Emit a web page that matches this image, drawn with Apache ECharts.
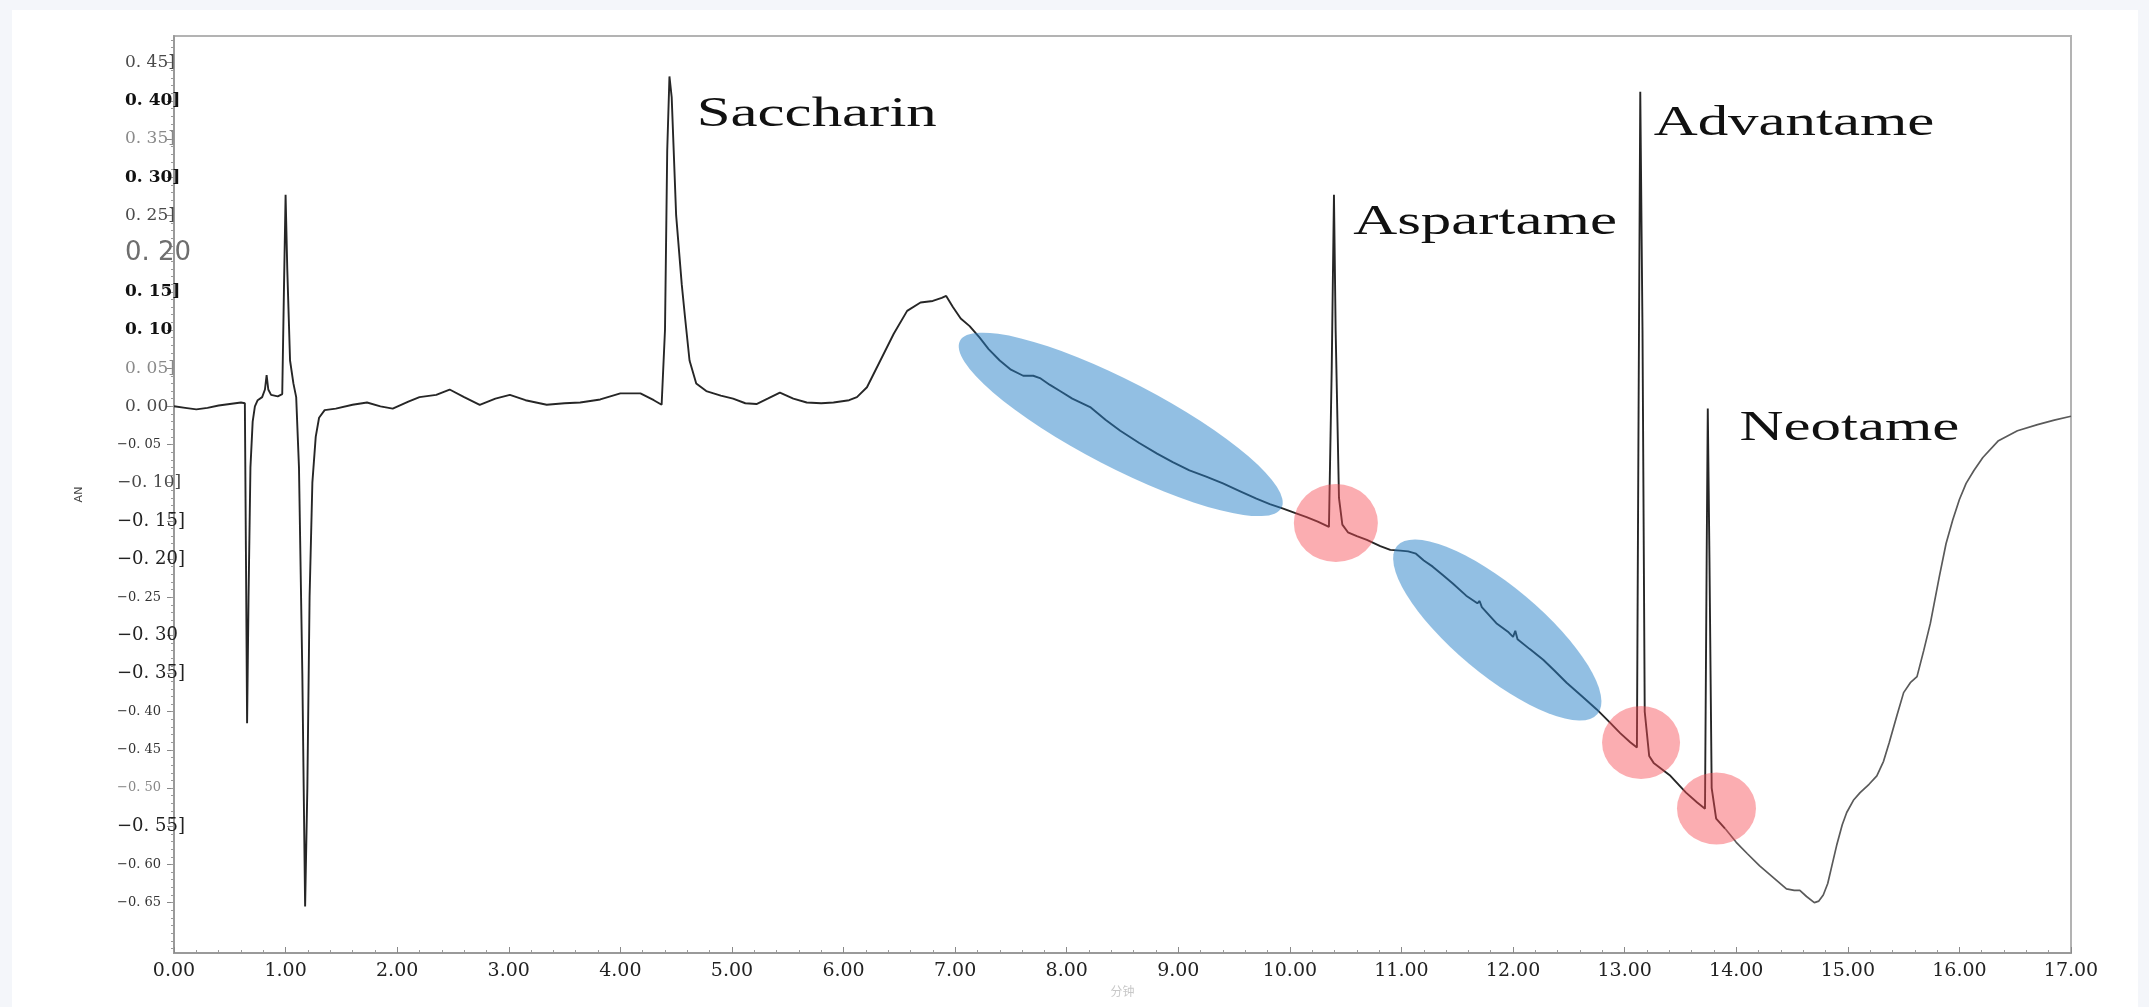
<!DOCTYPE html>
<html>
<head>
<meta charset="utf-8">
<script src="https://cdn.jsdelivr.net/npm/echarts@6/dist/echarts.min.js"></script>
<style>
  html, body { margin: 0; padding: 0; background: #f4f6fa; }
  #chart { width: 2149px; height: 1007px; }
</style>
</head>
<body>
<div id="chart"></div>
<script>
// ---------------- data ----------------
const times = [
  0.00, 0.10, 0.20, 0.30, 0.40, 0.50, 0.60, 0.635, 0.645, 0.655, 0.668, 0.685, 0.705, 0.725, 0.75, 0.79,
  0.815, 0.83, 0.845, 0.87, 0.93, 0.97, 0.985, 1.000, 1.015, 1.04, 1.07, 1.095, 1.12, 1.15, 1.175, 1.195,
  1.215, 1.24, 1.27, 1.30, 1.35, 1.45, 1.60, 1.73, 1.85, 1.96, 2.10, 2.20, 2.35, 2.47, 2.60, 2.74,
  2.88, 3.01, 3.15, 3.34, 3.50, 3.64, 3.82, 4.00, 4.18, 4.30, 4.37, 4.40, 4.42, 4.44, 4.46, 4.50,
  4.55, 4.58, 4.62, 4.68, 4.77, 4.90, 5.01, 5.12, 5.22, 5.32, 5.43, 5.55, 5.67, 5.80, 5.91, 6.05,
  6.12, 6.21, 6.33, 6.45, 6.57, 6.69, 6.80, 6.88, 6.92, 6.98, 7.05, 7.13, 7.22, 7.30, 7.40, 7.50,
  7.61, 7.70, 7.76, 7.85, 7.94, 8.05, 8.21, 8.35, 8.48, 8.65, 8.81, 8.95, 9.10, 9.25, 9.40, 9.55,
  9.70, 9.82, 9.94, 10.05, 10.15, 10.25, 10.35, 10.375, 10.395, 10.41, 10.44, 10.47, 10.52, 10.60, 10.69, 10.81,
  10.90, 10.99, 11.06, 11.13, 11.20, 11.28, 11.37, 11.46, 11.58, 11.68, 11.70, 11.72, 11.85, 11.96, 12.00, 12.02,
  12.04, 12.15, 12.27, 12.37, 12.48, 12.62, 12.75, 12.86, 12.96, 13.05, 13.11, 13.125, 13.14, 13.16, 13.18, 13.22,
  13.26, 13.41, 13.55, 13.65, 13.72, 13.735, 13.745, 13.76, 13.78, 13.82, 13.90, 14.00, 14.10, 14.21, 14.33, 14.45,
  14.52, 14.57, 14.63, 14.70, 14.74, 14.78, 14.82, 14.86, 14.90, 14.95, 14.99, 15.05, 15.11, 15.19, 15.26, 15.32,
  15.37, 15.44, 15.50, 15.56, 15.62, 15.68, 15.74, 15.82, 15.88, 15.94, 16.00, 16.06, 16.13, 16.21, 16.35, 16.52,
  16.70, 16.85, 17.00
];
const values = [
  0.000, -0.002, -0.004, -0.002, 0.001, 0.003, 0.005, 0.004, -0.200, -0.415, -0.250, -0.080, -0.020, 0.000, 0.008, 0.012,
  0.022, 0.041, 0.022, 0.015, 0.013, 0.016, 0.150, 0.277, 0.180, 0.060, 0.030, 0.012, -0.080, -0.350, -0.655, -0.500,
  -0.250, -0.100, -0.040, -0.015, -0.005, -0.003, 0.002, 0.005, 0.000, -0.003, 0.006, 0.012, 0.015, 0.022, 0.012, 0.002,
  0.010, 0.015, 0.008, 0.002, 0.004, 0.005, 0.009, 0.017, 0.017, 0.008, 0.002, 0.100, 0.335, 0.432, 0.405, 0.250,
  0.160, 0.116, 0.060, 0.030, 0.020, 0.014, 0.010, 0.004, 0.003, 0.010, 0.018, 0.010, 0.005, 0.004, 0.005, 0.008,
  0.012, 0.025, 0.060, 0.095, 0.125, 0.136, 0.138, 0.142, 0.1445, 0.130, 0.115, 0.105, 0.090, 0.075, 0.060, 0.048,
  0.040, 0.040, 0.037, 0.028, 0.020, 0.010, -0.001, -0.018, -0.032, -0.048, -0.062, -0.073, -0.084, -0.092, -0.101, -0.111,
  -0.121, -0.128, -0.134, -0.140, -0.145, -0.151, -0.158, 0.050, 0.277, 0.100, -0.120, -0.155, -0.165, -0.170, -0.175, -0.183,
  -0.188, -0.189, -0.190, -0.193, -0.202, -0.210, -0.221, -0.232, -0.248, -0.258, -0.255, -0.263, -0.284, -0.296, -0.302, -0.294,
  -0.305, -0.318, -0.332, -0.346, -0.362, -0.380, -0.397, -0.413, -0.428, -0.440, -0.447, 0.000, 0.412, 0.100, -0.400, -0.458,
  -0.467, -0.484, -0.506, -0.519, -0.527, -0.200, -0.003, -0.200, -0.500, -0.540, -0.553, -0.571, -0.586, -0.602, -0.617, -0.632,
  -0.634, -0.634, -0.642, -0.650, -0.648, -0.640, -0.625, -0.600, -0.575, -0.548, -0.532, -0.516, -0.506, -0.495, -0.484, -0.465,
  -0.441, -0.405, -0.375, -0.362, -0.354, -0.320, -0.284, -0.223, -0.180, -0.149, -0.122, -0.101, -0.084, -0.067, -0.045, -0.032,
  -0.024, -0.018, -0.013
];

const xTickLabels = ['0.00','1.00','2.00','3.00','4.00','5.00','6.00','7.00','8.00','9.00',
  '10.00','11.00','12.00','13.00','14.00','15.00','16.00','17.00'];

const yTickValues = [0.45, 0.40, 0.35, 0.30, 0.25, 0.20, 0.15, 0.10, 0.05, 0.00,
  -0.05, -0.10, -0.15, -0.20, -0.25, -0.30, -0.35, -0.40, -0.45, -0.50, -0.55, -0.60, -0.65];
const yTickLabels = ['0. 45]', '0. 40]', '0. 35]', '0. 30]', '0. 25]', '0. 20', '0. 15]', '0. 10', '0. 05]', '0. 00',
  '\u22120. 05', '\u22120. 10]', '\u22120. 15]', '\u22120. 20]', '\u22120. 25', '\u22120. 30', '\u22120. 35]',
  '\u22120. 40', '\u22120. 45', '\u22120. 50', '\u22120. 55]', '\u22120. 60', '\u22120. 65'];

const peakNames = ['Saccharin', 'Aspartame', 'Advantame', 'Neotame'];
const peakLabelTimes = [4.684, 10.567, 13.26, 14.03];
const peakLabelValues = [0.3817, 0.2407, 0.370, -0.030];

// highlighted regions: major-axis end points (time, value)
const blueRegions = [[7.043, 0.0856, 9.925, -0.1329], [10.96, -0.183, 12.757, -0.403]];
// highlighted points: centre (time, value)
const pinkPoints = [[10.412, -0.1529], [13.147, -0.4403], [13.823, -0.5268]];

// ---------------- styles ----------------
const blueMinorRadius = [43, 44];
const pinkRadius = [[42, 39], [39, 36.5], [39.5, 36]];
const yLabelStyleKeys = ['n','b','g','b','n','big','b','b','g','n','s','n','L','L','s','L','L','s','s','sg','L','s','s'];
const lightTailFrom = 13.9;   // trace drawn lighter from here on

const yMinorTicks = [];
for (let k = -71; k <= 48; k++) yMinorTicks.push(k / 100);

const lineData = times.map((t, i) => [t, values[i]]);
const darkPart = lineData.filter(p => p[0] <= lightTailFrom);
const lightPart = lineData.filter(p => p[0] >= lightTailFrom);

const chart = echarts.init(document.getElementById('chart'));
const serifY = 'DejaVu Serif';

const option = {
  backgroundColor: '#f4f6fa',
  animation: false,
  graphic: [{
    type: 'rect', z: -100, silent: true,
    shape: { x: 12, y: 10, width: 2126, height: 997 },
    style: { fill: '#ffffff' }
  }],
  grid: {
    left: 174, right: 78, top: 36, bottom: 54,
    show: true, borderColor: '#b3b3b3', borderWidth: 2, backgroundColor: 'transparent'
  },
  xAxis: {
    type: 'value', min: 0, max: 17, interval: 1,
    name: '分钟', nameLocation: 'middle', nameGap: 28,
    nameTextStyle: { color: '#c8c8c8', fontSize: 12, fontFamily: 'Noto Sans CJK SC' },
    axisLine: { show: true, onZero: false, lineStyle: { color: '#9a9a9a', width: 2 } },
    axisTick: { show: true, inside: true, length: 6, lineStyle: { color: '#8a8a8a' } },
    minorTick: { show: true, splitNumber: 5, length: 3, lineStyle: { color: '#9a9a9a' } },
    splitLine: { show: false },
    axisLabel: {
      margin: 9, color: '#222', fontSize: 19, fontFamily: serifY,
      formatter: v => xTickLabels[Math.round(v)]
    }
  },
  yAxis: [{
    type: 'value', min: -0.716, max: 0.485,
    name: 'AN', nameLocation: 'middle', nameGap: 89, nameRotate: 90,
    nameTextStyle: { color: '#444', fontSize: 11, fontFamily: 'DejaVu Sans' },
    axisLine: { show: true, onZero: false, lineStyle: { color: '#9a9a9a', width: 2 } },
    axisTick: { show: true, inside: false, length: 7, customValues: yTickValues, lineStyle: { color: '#888' } },
    splitLine: { show: false },
    axisLabel: {
      customValues: yTickValues,
      align: 'left', margin: 57,
      formatter: function (v) {
        const i = yTickValues.findIndex(x => Math.abs(x - v) < 1e-6);
        if (i < 0) return '';
        const key = yLabelStyleKeys[i];
        const txt = '{' + key + '|' + yTickLabels[i] + '}';
        return v >= 0 ? '{pad| }' + txt : txt;
      },
      rich: {
        pad: { width: 8 },
        n: { fontFamily: serifY, fontSize: 17, color: '#4a4a4a' },
        b: { fontFamily: serifY, fontSize: 17, color: '#111', fontWeight: 'bold' },
        g: { fontFamily: serifY, fontSize: 17, color: '#8a8a8a' },
        big: { fontFamily: 'DejaVu Sans', fontSize: 26, color: '#6e6e6e' },
        s: { fontFamily: serifY, fontSize: 13, color: '#333' },
        sg: { fontFamily: serifY, fontSize: 13, color: '#888' },
        L: { fontFamily: serifY, fontSize: 18, color: '#222' }
      }
    }
  }, {
    type: 'value', min: -0.716, max: 0.485, position: 'left',
    axisLine: { show: false, onZero: false },
    axisLabel: { show: false },
    splitLine: { show: false },
    axisTick: { show: true, inside: false, length: 3, customValues: yMinorTicks, lineStyle: { color: '#9a9a9a' } }
  }],
  series: [{
    type: 'line',
    data: darkPart,
    showSymbol: false,
    symbol: 'none',
    z: 2,
    lineStyle: { color: '#262626', width: 1.9 },
    silent: true
  }, {
    type: 'line',
    data: lightPart,
    showSymbol: false,
    symbol: 'none',
    z: 2,
    lineStyle: { color: '#5a5a5a', width: 1.7 },
    silent: true
  }, {
    type: 'custom',
    z: 3,
    clip: false,
    silent: true,
    data: blueRegions,
    renderItem: function (params, api) {
      const p1 = api.coord([api.value(0), api.value(1)]);
      const p2 = api.coord([api.value(2), api.value(3)]);
      const dx = p2[0] - p1[0], dy = p2[1] - p1[1];
      const a = Math.sqrt(dx * dx + dy * dy) / 2;
      const b = blueMinorRadius[params.dataIndex];
      return {
        type: 'circle',
        x: (p1[0] + p2[0]) / 2, y: (p1[1] + p2[1]) / 2,
        rotation: -Math.atan2(dy, dx),
        scaleX: a / b, scaleY: 1,
        shape: { cx: 0, cy: 0, r: b },
        style: { fill: 'rgba(37,127,199,0.5)' }
      };
    }
  }, {
    type: 'custom',
    z: 3,
    clip: false,
    silent: true,
    data: pinkPoints,
    renderItem: function (params, api) {
      const p = api.coord([api.value(0), api.value(1)]);
      const r = pinkRadius[params.dataIndex];
      return {
        type: 'circle',
        x: p[0], y: p[1],
        scaleX: r[0] / r[1], scaleY: 1,
        shape: { cx: 0, cy: 0, r: r[1] },
        style: { fill: 'rgba(246,73,82,0.45)' }
      };
    }
  }, {
    type: 'custom',
    z: 4,
    clip: false,
    silent: true,
    data: peakLabelTimes.map((t, i) => [t, peakLabelValues[i]]),
    renderItem: function (params, api) {
      const p = api.coord([api.value(0), api.value(1)]);
      return {
        type: 'text',
        x: p[0], y: p[1],
        scaleX: 1.45, scaleY: 1,
        style: {
          text: peakNames[params.dataIndex],
          fontFamily: 'Liberation Serif', fontSize: 42,
          fill: '#111', align: 'left', verticalAlign: 'middle'
        }
      };
    }
  }]
};
chart.setOption(option);
</script>
</body>
</html>
